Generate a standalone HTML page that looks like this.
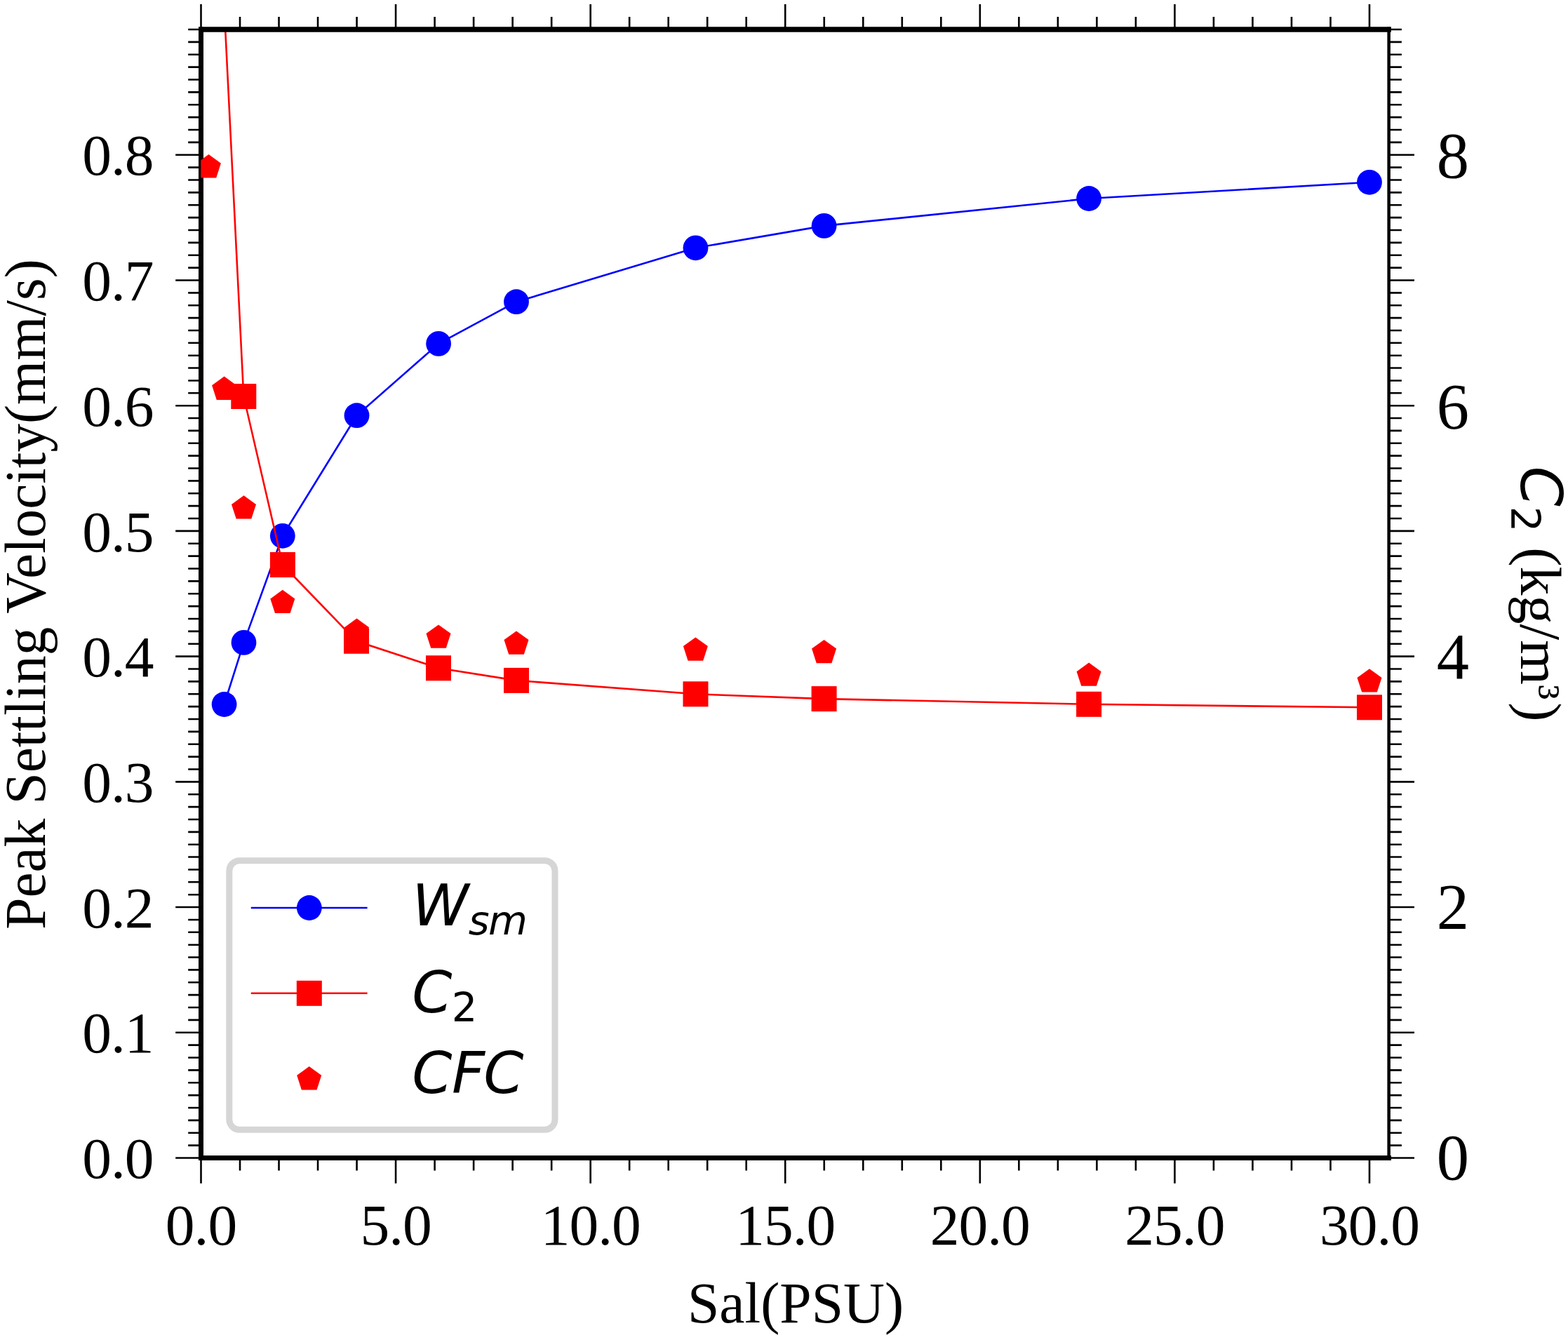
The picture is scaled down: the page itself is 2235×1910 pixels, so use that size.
<!DOCTYPE html><html><head><meta charset="utf-8"><title>Peak Settling Velocity vs Salinity</title>
<style>html,body{margin:0;padding:0;background:#fff;}svg{display:block;}.ser{font-family:"Liberation Serif","Times New Roman",serif;}.dj{font-family:"DejaVu Sans",sans-serif;}</style></head><body>
<svg width="2235" height="1910" viewBox="0 0 2235 1910">
<rect x="0" y="0" width="2235" height="1910" fill="#fff"/>
<defs><clipPath id="pa"><rect x="286.3" y="42.1" width="1693.3" height="1608.3"/></clipPath></defs>
<path d="M286.50 1650V1686.8M286.50 42V6M342.02 1650V1668.6M342.02 42V24M397.53 1650V1668.6M397.53 42V24M453.05 1650V1668.6M453.05 42V24M508.57 1650V1668.6M508.57 42V24M564.08 1650V1686.8M564.08 42V6M619.60 1650V1668.6M619.60 42V24M675.12 1650V1668.6M675.12 42V24M730.63 1650V1668.6M730.63 42V24M786.15 1650V1668.6M786.15 42V24M841.67 1650V1686.8M841.67 42V6M897.18 1650V1668.6M897.18 42V24M952.70 1650V1668.6M952.70 42V24M1008.22 1650V1668.6M1008.22 42V24M1063.73 1650V1668.6M1063.73 42V24M1119.25 1650V1686.8M1119.25 42V6M1174.77 1650V1668.6M1174.77 42V24M1230.28 1650V1668.6M1230.28 42V24M1285.80 1650V1668.6M1285.80 42V24M1341.32 1650V1668.6M1341.32 42V24M1396.83 1650V1686.8M1396.83 42V6M1452.35 1650V1668.6M1452.35 42V24M1507.87 1650V1668.6M1507.87 42V24M1563.38 1650V1668.6M1563.38 42V24M1618.90 1650V1668.6M1618.90 42V24M1674.42 1650V1686.8M1674.42 42V6M1729.93 1650V1668.6M1729.93 42V24M1785.45 1650V1668.6M1785.45 42V24M1840.97 1650V1668.6M1840.97 42V24M1896.48 1650V1668.6M1896.48 42V24M1952.00 1650V1686.8M1952.00 42V6M286 1650.50H250.2M1980 1650.50H2016M286 1632.63H268.2M1980 1632.63H1997.9M286 1614.76H268.2M1980 1614.76H1997.9M286 1596.88H268.2M1980 1596.88H1997.9M286 1579.01H268.2M1980 1579.01H1997.9M286 1561.14H268.2M1980 1561.14H1997.9M286 1543.27H268.2M1980 1543.27H1997.9M286 1525.40H268.2M1980 1525.40H1997.9M286 1507.52H268.2M1980 1507.52H1997.9M286 1489.65H268.2M1980 1489.65H1997.9M286 1471.78H250.2M1980 1471.78H2016M286 1453.91H268.2M1980 1453.91H1997.9M286 1436.04H268.2M1980 1436.04H1997.9M286 1418.16H268.2M1980 1418.16H1997.9M286 1400.29H268.2M1980 1400.29H1997.9M286 1382.42H268.2M1980 1382.42H1997.9M286 1364.55H268.2M1980 1364.55H1997.9M286 1346.68H268.2M1980 1346.68H1997.9M286 1328.80H268.2M1980 1328.80H1997.9M286 1310.93H268.2M1980 1310.93H1997.9M286 1293.06H250.2M1980 1293.06H2016M286 1275.19H268.2M1980 1275.19H1997.9M286 1257.32H268.2M1980 1257.32H1997.9M286 1239.44H268.2M1980 1239.44H1997.9M286 1221.57H268.2M1980 1221.57H1997.9M286 1203.70H268.2M1980 1203.70H1997.9M286 1185.83H268.2M1980 1185.83H1997.9M286 1167.96H268.2M1980 1167.96H1997.9M286 1150.08H268.2M1980 1150.08H1997.9M286 1132.21H268.2M1980 1132.21H1997.9M286 1114.34H250.2M1980 1114.34H2016M286 1096.47H268.2M1980 1096.47H1997.9M286 1078.60H268.2M1980 1078.60H1997.9M286 1060.72H268.2M1980 1060.72H1997.9M286 1042.85H268.2M1980 1042.85H1997.9M286 1024.98H268.2M1980 1024.98H1997.9M286 1007.11H268.2M1980 1007.11H1997.9M286 989.24H268.2M1980 989.24H1997.9M286 971.36H268.2M1980 971.36H1997.9M286 953.49H268.2M1980 953.49H1997.9M286 935.62H250.2M1980 935.62H2016M286 917.75H268.2M1980 917.75H1997.9M286 899.88H268.2M1980 899.88H1997.9M286 882.00H268.2M1980 882.00H1997.9M286 864.13H268.2M1980 864.13H1997.9M286 846.26H268.2M1980 846.26H1997.9M286 828.39H268.2M1980 828.39H1997.9M286 810.52H268.2M1980 810.52H1997.9M286 792.64H268.2M1980 792.64H1997.9M286 774.77H268.2M1980 774.77H1997.9M286 756.90H250.2M1980 756.90H2016M286 739.03H268.2M1980 739.03H1997.9M286 721.16H268.2M1980 721.16H1997.9M286 703.28H268.2M1980 703.28H1997.9M286 685.41H268.2M1980 685.41H1997.9M286 667.54H268.2M1980 667.54H1997.9M286 649.67H268.2M1980 649.67H1997.9M286 631.80H268.2M1980 631.80H1997.9M286 613.92H268.2M1980 613.92H1997.9M286 596.05H268.2M1980 596.05H1997.9M286 578.18H250.2M1980 578.18H2016M286 560.31H268.2M1980 560.31H1997.9M286 542.44H268.2M1980 542.44H1997.9M286 524.56H268.2M1980 524.56H1997.9M286 506.69H268.2M1980 506.69H1997.9M286 488.82H268.2M1980 488.82H1997.9M286 470.95H268.2M1980 470.95H1997.9M286 453.08H268.2M1980 453.08H1997.9M286 435.20H268.2M1980 435.20H1997.9M286 417.33H268.2M1980 417.33H1997.9M286 399.46H250.2M1980 399.46H2016M286 381.59H268.2M1980 381.59H1997.9M286 363.72H268.2M1980 363.72H1997.9M286 345.84H268.2M1980 345.84H1997.9M286 327.97H268.2M1980 327.97H1997.9M286 310.10H268.2M1980 310.10H1997.9M286 292.23H268.2M1980 292.23H1997.9M286 274.36H268.2M1980 274.36H1997.9M286 256.48H268.2M1980 256.48H1997.9M286 238.61H268.2M1980 238.61H1997.9M286 220.74H250.2M1980 220.74H2016M286 202.87H268.2M1980 202.87H1997.9M286 185.00H268.2M1980 185.00H1997.9M286 167.12H268.2M1980 167.12H1997.9M286 149.25H268.2M1980 149.25H1997.9M286 131.38H268.2M1980 131.38H1997.9M286 113.51H268.2M1980 113.51H1997.9M286 95.64H268.2M1980 95.64H1997.9M286 77.76H268.2M1980 77.76H1997.9M286 59.89H268.2M1980 59.89H1997.9M286 42.02H268.2M1980 42.02H1997.9" stroke="#000" stroke-width="2.6" fill="none"/>
<g clip-path="url(#pa)">
<polyline points="319.6,1004.0 347.5,915.9 402.8,763.8 508.5,592.2 625.1,489.9 736.0,430.2 991.5,353.3 1174.6,321.9 1552.1,283.0 1952.0,259.8" fill="none" stroke="#0000ff" stroke-width="2.6" stroke-linejoin="round"/>
<circle cx="319.6" cy="1004.0" r="17.9" fill="#0000ff"/>
<circle cx="347.5" cy="915.9" r="17.9" fill="#0000ff"/>
<circle cx="402.8" cy="763.8" r="17.9" fill="#0000ff"/>
<circle cx="508.5" cy="592.2" r="17.9" fill="#0000ff"/>
<circle cx="625.1" cy="489.9" r="17.9" fill="#0000ff"/>
<circle cx="736.0" cy="430.2" r="17.9" fill="#0000ff"/>
<circle cx="991.5" cy="353.3" r="17.9" fill="#0000ff"/>
<circle cx="1174.6" cy="321.9" r="17.9" fill="#0000ff"/>
<circle cx="1552.1" cy="283.0" r="17.9" fill="#0000ff"/>
<circle cx="1952.0" cy="259.8" r="17.9" fill="#0000ff"/>
<polyline points="319.6,11.0 347.3,565.0 402.9,805.0 508.0,913.8 625.0,952.3 736.0,969.9 991.5,989.3 1174.6,996.1 1552.1,1003.8 1952.0,1008.3" fill="none" stroke="#ff0000" stroke-width="2.6" stroke-linejoin="round"/>
<rect x="301.6" y="-7.0" width="36" height="36" fill="#ff0000"/>
<rect x="329.3" y="547.0" width="36" height="36" fill="#ff0000"/>
<rect x="384.9" y="787.0" width="36" height="36" fill="#ff0000"/>
<rect x="490.0" y="895.8" width="36" height="36" fill="#ff0000"/>
<rect x="607.0" y="934.3" width="36" height="36" fill="#ff0000"/>
<rect x="718.0" y="951.9" width="36" height="36" fill="#ff0000"/>
<rect x="973.5" y="971.3" width="36" height="36" fill="#ff0000"/>
<rect x="1156.6" y="978.1" width="36" height="36" fill="#ff0000"/>
<rect x="1534.1" y="985.8" width="36" height="36" fill="#ff0000"/>
<rect x="1934.0" y="990.3" width="36" height="36" fill="#ff0000"/>
</g>
<path d="M286.5 42.1H1982.8M286.5 1650.4H1982.8" stroke="#000" stroke-width="7" fill="none"/>
<path d="M283 38.6H290V1653.9H283Z" fill="#000"/>
<path d="M1977.4 38.6H1981.9V1653.9H1977.4Z" fill="#000"/>
<path d="M283 38.6H1982.8V45.6H283ZM283 1647H1982.8V1653.9H283Z" fill="#000"/>
<g clip-path="url(#pa)" fill="#ff0000">
<polygon points="297.40,220.10 314.90,232.81 308.22,253.39 286.58,253.39 279.90,232.81"/>
<polygon points="319.60,536.60 337.10,549.31 330.42,569.89 308.78,569.89 302.10,549.31"/>
<polygon points="347.50,706.20 365.00,718.91 358.32,739.49 336.68,739.49 330.00,718.91"/>
<polygon points="402.80,840.70 420.30,853.41 413.62,873.99 391.98,873.99 385.30,853.41"/>
<polygon points="508.50,881.50 526.00,894.21 519.32,914.79 497.68,914.79 491.00,894.21"/>
<polygon points="625.00,890.40 642.50,903.11 635.82,923.69 614.18,923.69 607.50,903.11"/>
<polygon points="736.00,899.40 753.50,912.11 746.82,932.69 725.18,932.69 718.50,912.11"/>
<polygon points="991.40,908.40 1008.90,921.11 1002.22,941.69 980.58,941.69 973.90,921.11"/>
<polygon points="1174.60,911.90 1192.10,924.61 1185.42,945.19 1163.78,945.19 1157.10,924.61"/>
<polygon points="1552.10,944.50 1569.60,957.21 1562.92,977.79 1541.28,977.79 1534.60,957.21"/>
<polygon points="1952.00,953.20 1969.50,965.91 1962.82,986.49 1941.18,986.49 1934.50,965.91"/>
</g>
<g class="ser" fill="#000">
<text x="218.6" y="1679.1" font-size="83.5" text-anchor="end" letter-spacing="-1">0.0</text>
<text x="218.6" y="1500.4" font-size="83.5" text-anchor="end" letter-spacing="-1">0.1</text>
<text x="218.6" y="1321.7" font-size="83.5" text-anchor="end" letter-spacing="-1">0.2</text>
<text x="218.6" y="1142.9" font-size="83.5" text-anchor="end" letter-spacing="-1">0.3</text>
<text x="218.6" y="964.2" font-size="83.5" text-anchor="end" letter-spacing="-1">0.4</text>
<text x="218.6" y="785.5" font-size="83.5" text-anchor="end" letter-spacing="-1">0.5</text>
<text x="218.6" y="606.8" font-size="83.5" text-anchor="end" letter-spacing="-1">0.6</text>
<text x="218.6" y="428.1" font-size="83.5" text-anchor="end" letter-spacing="-1">0.7</text>
<text x="218.6" y="249.3" font-size="83.5" text-anchor="end" letter-spacing="-1">0.8</text>
<text x="286.5" y="1774.1" font-size="83.5" text-anchor="middle" letter-spacing="-1">0.0</text>
<text x="564.1" y="1774.1" font-size="83.5" text-anchor="middle" letter-spacing="-1">5.0</text>
<text x="841.7" y="1774.1" font-size="83.5" text-anchor="middle" letter-spacing="-1">10.0</text>
<text x="1119.2" y="1774.1" font-size="83.5" text-anchor="middle" letter-spacing="-1">15.0</text>
<text x="1396.8" y="1774.1" font-size="83.5" text-anchor="middle" letter-spacing="-1">20.0</text>
<text x="1674.4" y="1774.1" font-size="83.5" text-anchor="middle" letter-spacing="-1">25.0</text>
<text x="1952.0" y="1774.1" font-size="83.5" text-anchor="middle" letter-spacing="-1">30.0</text>
<text x="2047.7" y="1681.4" font-size="92.5">0</text>
<text x="2047.7" y="1323.8" font-size="92.5">2</text>
<text x="2047.7" y="967.2" font-size="92.5">4</text>
<text x="2047.7" y="610.9" font-size="92.5">6</text>
<text x="2047.7" y="253.4" font-size="92.5">8</text>
</g>
<text class="ser" transform="translate(1134,1884.5) scale(0.989,1.01)" font-size="82.5" text-anchor="middle">Sal(PSU)</text>
<text class="ser" transform="translate(63.7,847) rotate(-90) scale(0.9853,1)" font-size="82.5" text-anchor="middle">Peak Settling Velocity(mm/s)</text>
<text transform="translate(2167.5,664.4) rotate(90)" font-size="82"><tspan class="dj" font-style="italic">C</tspan><tspan class="dj" font-size="57.4" dy="13.2">2</tspan><tspan class="ser" dy="-13.2" dx="1.5"> (kg/m</tspan><tspan class="ser" font-size="71" dy="-7.2">³</tspan><tspan class="ser" dy="7.2" dx="4">)</tspan></text>
<rect x="326.8" y="1226.75" width="464.2" height="383.55" rx="14.5" ry="14.5" fill="#fff" stroke="#d6d6d6" stroke-width="9"/>
<path d="M357.8 1294H523.6" stroke="#0000ff" stroke-width="2.6"/>
<circle cx="440.8" cy="1294" r="17.9" fill="#0000ff"/>
<path d="M357.8 1415.8H523.6" stroke="#ff0000" stroke-width="2.6"/>
<rect x="422.8" y="1397.8" width="36" height="36" fill="#ff0000"/>
<polygon points="440.70,1520.10 458.20,1532.81 451.52,1553.39 429.88,1553.39 423.20,1532.81" fill="#ff0000"/>
<g class="dj" font-style="italic" fill="#000">
<text x="587.3" y="1319.2" font-size="82">W</text>
<text x="667.8 696.0" y="1332.1" font-size="57.4">sm</text>
<text x="587.3" y="1442.7" font-size="82">C</text>
<text x="643.8" y="1455.7" font-size="57.4" font-style="normal">2</text>
<text x="587.3 644.0 689.3" y="1557.8" font-size="82">CFC</text>
</g>
</svg></body></html>
